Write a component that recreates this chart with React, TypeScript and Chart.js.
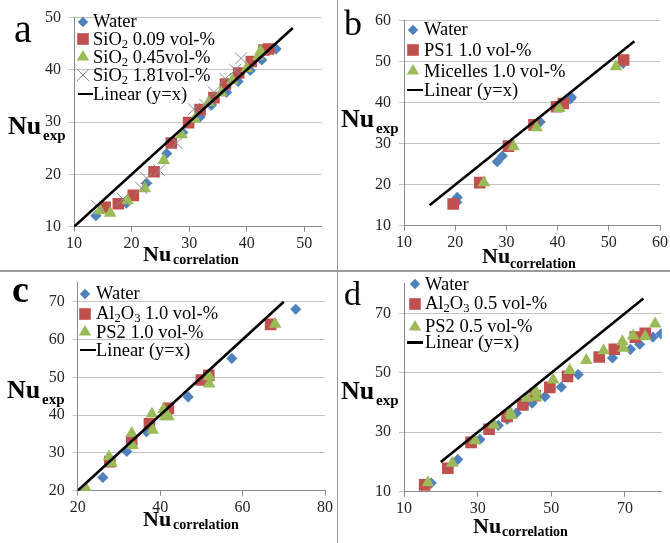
import React, { useEffect, useRef } from 'react';
import { Chart, registerables } from 'chart.js';
Chart.register(...registerables);

const W = 670;
const H = 543;
const SERIF = "'Liberation Serif', 'Times New Roman', serif";

// ---------- Panel a ----------
const aXTicks = [10, 20, 30, 40, 50];
const aYTicks = [10, 20, 30, 40, 50];
const aWater: number[][] = [[13.8, 12.1], [19.1, 14.5], [22.6, 18.3], [26.1, 24.0], [28.9, 28.0], [31.9, 31.0], [33.9, 33.3], [36.5, 35.7], [38.5, 37.8], [40.6, 39.9], [42.6, 41.9], [45.1, 44.0]];
const aSiO2_009: number[][] = [[15.4, 13.7], [17.7, 14.4], [20.3, 16.0], [23.9, 20.5], [26.9, 26.0], [29.9, 29.9], [31.9, 32.4], [34.3, 34.7], [36.3, 37.3], [38.6, 39.4], [40.8, 41.6], [43.0, 43.8], [43.8, 44.0]];
const aSiO2_045: number[][] = [[14.5, 13.1], [16.3, 12.6], [19.3, 15.0], [22.3, 17.3], [25.6, 22.7], [28.7, 27.6], [31.0, 30.6], [33.4, 33.8], [35.6, 35.6], [37.5, 38.0], [40.0, 40.3], [42.0, 42.6], [42.4, 43.6]];
const aSiO2_181: number[][] = [[14.0, 14.0], [18.5, 15.3], [21.7, 17.4], [22.6, 19.3], [24.8, 20.8], [27.8, 26.0], [30.8, 32.5], [32.8, 33.3], [34.3, 35.7], [36.3, 38.3], [38.0, 40.0], [39.0, 42.2]];
const aLinear: number[][] = [[10, 10], [48, 48]];

// ---------- Panel b ----------
const bXTicks = [10, 20, 30, 40, 50, 60];
const bYTicks = [10, 20, 30, 40, 50, 60];
const bWater: number[][] = [[20.4, 16.9], [20.3, 15.7], [28.2, 25.6], [29.2, 27.0], [30.4, 29.2], [36.6, 35.3], [42.7, 41.3], [42.5, 40.9], [52.8, 49.6]];
const bPS1: number[][] = [[19.6, 15.3], [24.8, 20.5], [30.4, 29.4], [35.4, 34.6], [39.8, 39.0], [41.1, 39.8], [52.9, 50.4]];
const bMicelles: number[][] = [[25.6, 20.5], [31.4, 29.3], [35.9, 33.9], [40.3, 38.6], [51.4, 48.8]];
const bLinear: number[][] = [[15, 15], [55, 55]];

// ---------- Panel c ----------
const cXTicks = [20, 40, 60, 80];
const cYTicks = [20, 30, 40, 50, 60, 70];
const cWater: number[][] = [[26.1, 23.5], [31.9, 30.4], [36.7, 35.6], [42.0, 40.6], [46.8, 44.8], [57.4, 55.0], [72.9, 68.0]];
const cAl2O3: number[][] = [[27.8, 27.7], [33.1, 33.2], [37.4, 37.7], [42.0, 41.8], [50.0, 49.3], [51.8, 50.5], [66.8, 64.0]];
const cPS2: number[][] = [[22.0, 20.6], [27.6, 29.0], [28.2, 27.4], [33.1, 35.2], [33.3, 32.0], [38.0, 40.3], [38.2, 36.0], [40.8, 41.5], [41.2, 39.6], [42.0, 39.6], [51.9, 50.2], [51.9, 48.3], [67.9, 64.1]];
const cLinear: number[][] = [[20, 20], [70, 70]];

// ---------- Panel d ----------
const dXTicks = [10, 30, 50, 70];
const dYTicks = [10, 30, 50, 70];
const dWater: number[][] = [[17.4, 12.9], [24.6, 20.8], [30.6, 27.6], [35.6, 32.3], [38.0, 34.3], [40.5, 36.4], [44.8, 39.8], [48.3, 42.0], [52.7, 45.2], [57.3, 49.4], [66.6, 55.0], [71.5, 57.9], [74.0, 59.6], [77.6, 62.0], [79.8, 63.1]];
const dAl2O3: number[][] = [[15.6, 12.3], [21.9, 17.9], [28.2, 26.6], [33.1, 31.0], [38.0, 35.3], [42.3, 39.2], [45.6, 42.3], [49.6, 45.1], [54.4, 48.8], [63.0, 55.3], [67.1, 57.9], [72.8, 62.0], [75.5, 63.3]];
const dPS2: number[][] = [[16.5, 13.1], [23.1, 19.6], [29.3, 27.2], [34.4, 32.5], [38.9, 36.5], [39.1, 35.6], [43.4, 41.5], [45.8, 43.7], [45.9, 41.8], [50.5, 47.6], [55.0, 50.8], [59.5, 54.2], [64.2, 57.5], [69.3, 60.5], [69.6, 58.3], [72.2, 62.4], [75.5, 62.2], [78.2, 66.5]];
const dLinear: number[][] = [[20, 20], [75, 75]];

// ---------- styles ----------
const BLUE = '#4f81bd';
const RED = '#c0504d';
const GREEN = '#9bbb59';
const GREYX = '#8c8c8c';

type Series = { data: number[][]; kind: 'diamond' | 'square' | 'triangle' | 'x' };
type PanelCfg = {
  area: { l: number; t: number; r: number; b: number };
  xMin: number; xMax: number; yMin: number; yMax: number;
  xTicks: number[]; yTicks: number[];
  series: Series[];
  linear: number[][];
};

const panels: PanelCfg[] = [
  {
    area: { l: 74, t: 12.3, r: 321.6, b: 226.7 },
    xMin: 10, xMax: 53, yMin: 10, yMax: 50, xTicks: aXTicks, yTicks: aYTicks,
    series: [
      { data: aWater, kind: 'diamond' },
      { data: aSiO2_009, kind: 'square' },
      { data: aSiO2_045, kind: 'triangle' },
      { data: aSiO2_181, kind: 'x' },
    ],
    linear: aLinear,
  },
  {
    area: { l: 404, t: 20.7, r: 660, b: 225.7 },
    xMin: 10, xMax: 60, yMin: 10, yMax: 60, xTicks: bXTicks, yTicks: bYTicks,
    series: [
      { data: bWater, kind: 'diamond' },
      { data: bPS1, kind: 'square' },
      { data: bMicelles, kind: 'triangle' },
    ],
    linear: bLinear,
  },
  {
    area: { l: 77.7, t: 282.8, r: 325, b: 490.7 },
    xMin: 20, xMax: 80, yMin: 20, yMax: 75, xTicks: cXTicks, yTicks: cYTicks,
    series: [
      { data: cWater, kind: 'diamond' },
      { data: cAl2O3, kind: 'square' },
      { data: cPS2, kind: 'triangle' },
    ],
    linear: cLinear,
  },
  {
    area: { l: 404, t: 283.6, r: 665, b: 491.7 },
    xMin: 10, xMax: 80, yMin: 10, yMax: 80, xTicks: dXTicks, yTicks: dYTicks,
    series: [
      { data: dWater, kind: 'diamond' },
      { data: dAl2O3, kind: 'square' },
      { data: dPS2, kind: 'triangle' },
    ],
    linear: dLinear,
  },
];

function styleFor(kind: Series['kind']) {
  switch (kind) {
    case 'diamond':
      return { pointStyle: 'rectRot', pointRadius: 5.6, backgroundColor: BLUE, borderColor: BLUE, borderWidth: 0 };
    case 'square':
      return { pointStyle: 'rect', pointRadius: 8.2, backgroundColor: RED, borderColor: RED, borderWidth: 0 };
    case 'triangle':
      return { pointStyle: 'triangle', pointRadius: 7.3, backgroundColor: GREEN, borderColor: GREEN, borderWidth: 0 };
    default:
      return { pointStyle: 'crossRot', pointRadius: 8.5, backgroundColor: GREYX, borderColor: GREYX, borderWidth: 1 };
  }
}

const Y_W = 60;
const X_H = 30;

function PanelChart({ cfg }: { cfg: PanelCfg }) {
  const ref = useRef<HTMLCanvasElement>(null);
  useEffect(() => {
    const { area } = cfg;
    const datasets: any[] = cfg.series.map((s, i) => {
      const st = styleFor(s.kind);
      return {
        data: s.data.map(([x, y]) => ({ x, y })),
        pointStyle: st.pointStyle,
        pointRadius: st.pointRadius,
        pointBackgroundColor: st.backgroundColor,
        pointBorderColor: st.borderColor,
        pointBorderWidth: st.borderWidth,
        showLine: false,
        order: 10 - i,
      };
    });
    datasets.push({
      data: cfg.linear.map(([x, y]) => ({ x, y })),
      showLine: true,
      borderColor: '#000000',
      borderWidth: 2.6,
      pointRadius: 0,
      order: -1,
    });
    const chart = new Chart(ref.current!, {
      type: 'scatter',
      data: { datasets },
      options: {
        animation: false,
        responsive: false,
        events: [],
        layout: {
          padding: {
            left: area.l - Y_W,
            top: area.t,
            right: W - area.r,
            bottom: H - area.b - X_H,
          },
        },
        plugins: { legend: { display: false }, tooltip: { enabled: false } },
        scales: {
          x: {
            type: 'linear',
            min: cfg.xMin,
            max: cfg.xMax,
            afterBuildTicks: (s: any) => { s.ticks = cfg.xTicks.map((v) => ({ value: v })); },
            afterFit: (s: any) => { s.height = X_H; },
            grid: { drawOnChartArea: false, drawTicks: true, tickLength: 5, color: '#8a8a8a' },
            border: { display: true, color: '#8a8a8a', width: 1 },
            ticks: { font: { family: SERIF, size: 16 }, color: '#262626', padding: 2, maxRotation: 0 },
          },
          y: {
            type: 'linear',
            min: cfg.yMin,
            max: cfg.yMax,
            afterBuildTicks: (s: any) => { s.ticks = cfg.yTicks.map((v) => ({ value: v })); },
            afterFit: (s: any) => { s.width = Y_W; },
            grid: { drawTicks: true, tickLength: 5, color: '#c4c4c4' },
            border: { display: true, color: '#8a8a8a', width: 1 },
            ticks: { font: { family: SERIF, size: 16 }, color: '#262626', padding: 8 },
          },
        },
      } as any,
    });
    return () => chart.destroy();
  }, []);
  return (
    <canvas
      ref={ref}
      width={W}
      height={H}
      style={{ position: 'absolute', left: 0, top: 0, width: W, height: H }}
    />
  );
}

// text positioned by its baseline
function Txt({ x, base, size, bold, children }: { x: number; base: number; size: number; bold?: boolean; children: React.ReactNode }) {
  return (
    <div
      style={{
        position: 'absolute',
        left: x,
        top: base - 0.8375 * size,
        fontFamily: SERIF,
        fontSize: size,
        fontWeight: bold ? 'bold' : 'normal',
        lineHeight: 1,
        whiteSpace: 'nowrap',
        color: '#000',
      }}
    >
      {children}
    </div>
  );
}

function Marker({ kind, cx, cy }: { kind: string; cx: number; cy: number }) {
  const s = 20;
  let el: React.ReactNode = null;
  if (kind === 'diamond') el = <polygon points="10,4.8 15.2,10 10,15.2 4.8,10" fill={BLUE} />;
  else if (kind === 'square') el = <rect x={4.2} y={4.2} width={11.6} height={11.6} fill={RED} />;
  else if (kind === 'triangle') el = <polygon points="10,3 16.2,13.6 3.8,13.6" fill={GREEN} />;
  else if (kind === 'x')
    el = (
      <g stroke={GREYX} strokeWidth={1}>
        <line x1={4} y1={4} x2={16} y2={16} />
        <line x1={16} y1={4} x2={4} y2={16} />
      </g>
    );
  return (
    <svg width={s} height={s} style={{ position: 'absolute', left: cx - s / 2, top: cy - s / 2 }}>
      {el}
    </svg>
  );
}

function LineMark({ x1, x2, cy }: { x1: number; x2: number; cy: number }) {
  return <div style={{ position: 'absolute', left: x1, top: cy - 1.3, width: x2 - x1, height: 2.6, background: '#000' }} />;
}

const sub: React.CSSProperties = { fontSize: '0.68em', verticalAlign: '-0.22em' };

type LegItem = { kind: string; label: React.ReactNode };
function Legend({ mx, tx, ys, items, lx1, lx2, size }: { mx: number; tx: number; ys: number[]; items: LegItem[]; lx1: number; lx2: number; size: number }) {
  return (
    <>
      {items.map((it, i) =>
        it.kind === 'line' ? (
          <React.Fragment key={i}>
            <LineMark x1={lx1} x2={lx2} cy={ys[i]} />
            <Txt x={tx} base={ys[i] + 0.33 * size} size={size}>{it.label}</Txt>
          </React.Fragment>
        ) : (
          <React.Fragment key={i}>
            <Marker kind={it.kind} cx={mx} cy={ys[i]} />
            <Txt x={tx} base={ys[i] + 0.33 * size} size={size}>{it.label}</Txt>
          </React.Fragment>
        )
      )}
    </>
  );
}

function AxisTitle({ x, base, subBase, main, subText, size, subSize, gap }: { x: number; base: number; subBase: number; main: string; subText: string; size: number; subSize: number; gap: number }) {
  return (
    <>
      <Txt x={x} base={base} size={size} bold>{main}</Txt>
      <Txt x={x + gap} base={subBase} size={subSize} bold>{subText}</Txt>
    </>
  );
}

export default function App() {
  const LS = 18.5;
  return (
    <div style={{ position: 'fixed', left: 0, top: 0, width: W, height: H, background: '#fff', overflow: 'hidden' }}>
      {panels.map((p, i) => (
        <PanelChart key={i} cfg={p} />
      ))}

      {/* dividers */}
      <div style={{ position: 'absolute', left: 0, top: 270, width: W, height: 1.5, background: '#9a9a9a' }} />
      <div style={{ position: 'absolute', left: 336.5, top: 0, width: 1.8, height: H, background: '#9a9a9a' }} />

      {/* panel letters */}
      <Txt x={14} base={42} size={40}>a</Txt>
      <Txt x={344} base={35} size={36}>b</Txt>
      <Txt x={12} base={302} size={38} bold>c</Txt>
      <Txt x={344} base={305} size={34}>d</Txt>

      {/* legends */}
      <Legend
        mx={83} tx={93} lx1={78} lx2={93} size={LS}
        ys={[21.7, 39.3, 57, 75, 94]}
        items={[
          { kind: 'diamond', label: 'Water' },
          { kind: 'square', label: <span>SiO<span style={sub}>2</span> 0.09 vol-%</span> },
          { kind: 'triangle', label: <span>SiO<span style={sub}>2</span> 0.45vol-%</span> },
          { kind: 'x', label: <span>SiO<span style={sub}>2</span> 1.81vol-%</span> },
          { kind: 'line', label: 'Linear (y=x)' },
        ]}
      />
      <Legend
        mx={413} tx={424} lx1={407} lx2={423} size={LS}
        ys={[29.5, 50, 71, 90]}
        items={[
          { kind: 'diamond', label: 'Water' },
          { kind: 'square', label: 'PS1 1.0 vol-%' },
          { kind: 'triangle', label: 'Micelles 1.0 vol-%' },
          { kind: 'line', label: 'Linear (y=x)' },
        ]}
      />
      <Legend
        mx={85} tx={96} lx1={80} lx2={96} size={LS}
        ys={[293.5, 313.5, 332, 350]}
        items={[
          { kind: 'diamond', label: 'Water' },
          { kind: 'square', label: <span>Al<span style={sub}>2</span>O<span style={sub}>3</span> 1.0 vol-%</span> },
          { kind: 'triangle', label: 'PS2 1.0 vol-%' },
          { kind: 'line', label: 'Linear (y=x)' },
        ]}
      />
      <Legend
        mx={415} tx={425} lx1={407} lx2={423} size={LS}
        ys={[284, 303.5, 326.5, 342.5]}
        items={[
          { kind: 'diamond', label: 'Water' },
          { kind: 'square', label: <span>Al<span style={sub}>2</span>O<span style={sub}>3</span> 0.5 vol-%</span> },
          { kind: 'triangle', label: 'PS2 0.5 vol-%' },
          { kind: 'line', label: 'Linear (y=x)' },
        ]}
      />

      {/* axis titles */}
      <AxisTitle x={8} base={135} subBase={141} main="Nu" subText="exp" size={26} subSize={15} gap={35} />
      <AxisTitle x={143} base={261} subBase={265} main="Nu" subText="correlation" size={22} subSize={14} gap={30} />

      <AxisTitle x={341} base={128} subBase={134} main="Nu" subText="exp" size={26} subSize={15} gap={35} />
      <AxisTitle x={482} base={263} subBase={269} main="Nu" subText="correlation" size={22} subSize={14} gap={28} />

      <AxisTitle x={7} base={399} subBase={405} main="Nu" subText="exp" size={26} subSize={15} gap={35} />
      <AxisTitle x={143} base={526} subBase={530} main="Nu" subText="correlation" size={22} subSize={14} gap={30} />

      <AxisTitle x={341} base={400} subBase={406} main="Nu" subText="exp" size={26} subSize={15} gap={35} />
      <AxisTitle x={473} base={533} subBase={537} main="Nu" subText="correlation" size={22} subSize={14} gap={29} />
    </div>
  );
}
